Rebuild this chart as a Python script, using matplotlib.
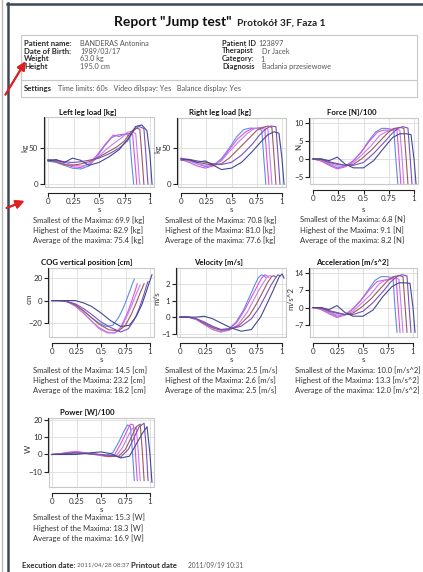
import matplotlib
matplotlib.use("Agg")
import matplotlib.pyplot as plt
from matplotlib.patches import Rectangle
from matplotlib.lines import Line2D

W, H = 423, 572
plt.rcParams['font.family'] = ['Lato', 'DejaVu Sans']

# ---------------- data ----------------
series_colors = ['#5b8de8', '#e050e0', '#c080f0', '#a05858', '#7a50c0', '#404a90']

x_s1 = [0.00, 0.08, 0.16, 0.24, 0.32, 0.40, 0.48, 0.55, 0.62, 0.68, 0.73, 0.77, 0.80, 0.82, 0.84]
x_s2 = [0.00, 0.08, 0.16, 0.24, 0.32, 0.40, 0.48, 0.56, 0.64, 0.70, 0.76, 0.80, 0.83, 0.85, 0.87]
x_s3 = [0.00, 0.08, 0.16, 0.24, 0.32, 0.40, 0.48, 0.57, 0.66, 0.72, 0.78, 0.82, 0.86, 0.88, 0.90]
x_s4 = [0.00, 0.08, 0.16, 0.24, 0.32, 0.40, 0.48, 0.58, 0.68, 0.75, 0.81, 0.86, 0.90, 0.92, 0.94]
x_s5 = [0.00, 0.08, 0.16, 0.24, 0.32, 0.40, 0.50, 0.60, 0.70, 0.78, 0.84, 0.89, 0.94, 0.96, 0.98]
x_s6 = [0.00, 0.08, 0.16, 0.24, 0.32, 0.40, 0.50, 0.60, 0.70, 0.79, 0.86, 0.92, 0.97, 1.00, 1.02]
series_x = [x_s1, x_s2, x_s3, x_s4, x_s5, x_s6]

left_leg = [
    [32, 30, 26, 22, 21, 25, 38, 52, 64, 68, 69, 69, 66, 30, 0],
    [33, 32, 28, 24, 23, 28, 40, 55, 68, 66, 70, 70, 68, 35, 0],
    [34, 33, 30, 27, 25, 27, 36, 48, 58, 64, 72, 73, 70, 35, 0],
    [33, 31, 27, 26, 28, 31, 36, 44, 52, 60, 72, 78, 76, 40, 0],
    [34, 33, 31, 30, 31, 33, 36, 42, 50, 60, 74, 80, 77, 40, 0],
    [32, 34, 30, 36, 33, 26, 30, 38, 48, 64, 80, 82, 74, 40, 0],
]
right_leg = [
    [35, 32, 28, 24, 26, 35, 50, 65, 75, 77, 77, 76, 74, 35, 0],
    [34, 30, 25, 22, 25, 33, 48, 62, 72, 76, 77, 77, 75, 35, 0],
    [36, 33, 28, 26, 27, 32, 45, 58, 70, 76, 78, 78, 76, 38, 0],
    [35, 33, 30, 28, 26, 28, 36, 50, 64, 74, 78, 80, 78, 40, 0],
    [35, 34, 32, 30, 28, 27, 30, 40, 54, 68, 76, 80, 79, 40, 0],
    [33, 34, 30, 32, 26, 20, 22, 30, 44, 58, 68, 72, 70, 35, 0],
]
force = [
    [0, -0.5, -1.5, -2.5, -2.0, -0.5, 2.0, 5.0, 7.5, 8.5, 8.5, 8.3, 8.0, 0, -7],
    [0, -0.6, -1.8, -2.8, -2.2, -0.5, 2.0, 5.0, 7.5, 8.0, 8.0, 8.5, 8.5, 1, -7],
    [0, -0.3, -1.2, -2.0, -2.0, -1.0, 1.0, 3.5, 6.5, 7.5, 8.0, 8.3, 8.0, 1, -7],
    [0, -0.2, -1.0, -1.5, -1.8, -1.5, 0.0, 2.5, 5.5, 7.5, 8.5, 8.8, 8.5, 1, -7],
    [0, 0.0, -0.8, -1.3, -1.8, -1.8, -1.0, 1.5, 4.5, 7.0, 8.5, 9.0, 8.6, 1, -7],
    [0, 0.0, -0.5, 0.5, -1.5, -2.5, -2.5, -0.5, 3.0, 6.0, 7.0, 7.0, 6.8, 0, -7],
]
cog = [
    [0, 0, -1, -4, -9, -15, -20, -23, -22, -15, -6, 3, 10, 15, 19],
    [0, 0, -1, -5, -11, -18, -24, -28, -29, -24, -13, -4, 4, 9, 15],
    [0, 0, -1, -5, -11, -18, -25, -29, -28, -22, -11, -3, 6, 10, 14],
    [0, 0, -1, -4, -9, -15, -21, -26, -27, -22, -12, -2, 7, 11, 15],
    [0, 0, -1, -3, -7, -12, -19, -24, -28, -25, -17, -7, 6, 12, 17],
    [0, 0, 0, 0, -2, -5, -11, -18, -23, -22, -14, -3, 10, 18, 23],
]
velocity = [
    [0, 0, -0.10, -0.35, -0.60, -0.75, -0.70, -0.30, 0.40, 1.20, 1.90, 2.40, 2.55, 2.50, 2.40],
    [0, 0, -0.15, -0.45, -0.75, -0.90, -0.75, -0.30, 0.50, 1.20, 1.90, 2.35, 2.55, 2.50, 2.40],
    [0, 0, -0.15, -0.45, -0.75, -0.90, -0.80, -0.45, 0.30, 1.00, 1.70, 2.10, 2.45, 2.50, 2.45],
    [0, 0, -0.10, -0.40, -0.65, -0.80, -0.75, -0.50, 0.10, 0.80, 1.50, 2.10, 2.45, 2.50, 2.40],
    [0, 0, -0.10, -0.30, -0.55, -0.75, -0.70, -0.55, -0.10, 0.60, 1.30, 1.90, 2.40, 2.55, 2.50],
    [0, 0, 0.00, 0.05, -0.10, -0.35, -0.65, -0.85, -0.75, 0.00, 0.90, 1.70, 2.40, 2.60, 2.35],
]
acceleration = [
    [0, -0.5, -2.0, -3.5, -3.0, -0.5, 3.0, 7.0, 11.0, 12.5, 12.5, 12.3, 12.0, 0, -10],
    [0, -0.8, -2.5, -4.0, -3.0, -0.5, 3.0, 7.0, 10.5, 11.0, 11.5, 12.5, 12.5, 1, -10],
    [0, -0.5, -1.8, -3.0, -3.0, -1.5, 1.5, 5.0, 9.5, 11.0, 11.5, 12.0, 11.5, 1, -10],
    [0, -0.3, -1.5, -2.3, -2.8, -2.2, 0.0, 3.5, 8.0, 11.0, 12.5, 13.0, 12.5, 1, -10],
    [0, 0.0, -1.2, -2.0, -2.8, -2.8, -1.5, 2.0, 6.5, 10.5, 12.5, 13.3, 12.8, 1, -10],
    [0, 0.0, -0.8, 0.8, -2.0, -3.5, -3.5, -1.0, 4.5, 8.5, 10.0, 10.0, 9.8, 0, -10],
]
power = [
    [0, 0.3, 0.8, 1.3, 1.0, 0.5, 0.0, -0.5, 1.0, 7.0, 13.0, 17.0, 16.0, 2, -15],
    [0, 0.5, 1.2, 1.8, 1.2, 0.3, -0.5, -1.0, 0.0, 6.0, 13.0, 17.5, 17.0, 2, -15],
    [0, 0.4, 1.0, 1.5, 1.0, 0.3, -0.3, -1.2, -0.5, 4.0, 11.0, 15.0, 15.5, 2, -15],
    [0, 0.3, 0.8, 1.0, 0.8, 0.3, 0.0, -1.2, -1.0, 3.0, 10.0, 16.0, 17.5, 3, -15],
    [0, 0.2, 0.6, 0.8, 0.6, 0.3, 0.0, -0.5, -1.5, 3.0, 10.0, 16.0, 18.0, 5, -15],
    [0, 0.0, 0.0, 0.0, 0.5, 1.0, 1.5, 0.5, -2.0, -1.0, 6.0, 12.0, 16.0, 0, -16],
]

x_ticks = [0, 0.25, 0.5, 0.75, 1]
x_tick_labels = ['0', '0.25', '0.5', '0.75', '1']

titles = ['Left leg load [kg]', 'Right leg load [kg]', 'Force [N]/100',
          'COG vertical position [cm]', 'Velocity [m/s]', 'Acceleration [m/s^2]',
          'Power [W]/100']
units = ['kg', 'kg', 'N', 'cm', 'm/s', 'm/s^2', 'W']
y_ticks = [[0, 50], [0, 50], [-5, 0, 5, 10], [-20, 0, 20], [-1, 0, 1, 2],
           [-7, 0, 7, 14], [-10, 0, 10, 20]]
y_limits = [(-4, 93), (-4, 91), (-7, 11.4), (-32.4, 29), (-1.2, 2.96),
            (-11.9, 16), (-18.7, 21)]
stats = [
    ['Smallest of the Maxima: 69.9 [kg]', 'Highest of the Maxima: 82.9 [kg]', 'Average of the maxima: 75.4 [kg]'],
    ['Smallest of the Maxima: 70.8 [kg]', 'Highest of the Maxima: 81.0 [kg]', 'Average of the maxima: 77.6 [kg]'],
    ['Smallest of the Maxima: 6.8 [N]', 'Highest of the Maxima: 9.1 [N]', 'Average of the maxima: 8.2 [N]'],
    ['Smallest of the Maxima: 14.5 [cm]', 'Highest of the Maxima: 23.2 [cm]', 'Average of the maxima: 18.2 [cm]'],
    ['Smallest of the Maxima: 2.5 [m/s]', 'Highest of the Maxima: 2.6 [m/s]', 'Average of the maxima: 2.5 [m/s]'],
    ['Smallest of the Maxima: 10.0 [m/s^2]', 'Highest of the Maxima: 13.3 [m/s^2]', 'Average of the maxima: 12.0 [m/s^2]'],
    ['Smallest of the Maxima: 15.3 [W]', 'Highest of the Maxima: 18.3 [W]', 'Average of the maxima: 16.9 [W]'],
]
chart_data = [left_leg, right_leg, force, cog, velocity, acceleration, power]

# ---------------- layout (pixel positions) ----------------
chart_px = [
    (48, 150, 117, 187), (181, 282, 118, 187), (313, 414, 118, 184),
    (52, 150, 268, 337), (180, 282, 268, 337), (313, 413, 268, 337),
    (52, 150, 418, 487),
]
title_pos = [(88, 112), (220, 112), (352, 112), (87, 262), (218, 262), (352, 262), (87, 412)]
ylabel_x = [25, 158, 299, 29, 157, 291, 28]
stats_x = [33, 165, 300, 33, 165, 295, 33]
row_of = [0, 0, 0, 1, 1, 1, 2]
s_label_y = [210, 360, 509]
stats_y = [(220, 230, 240), (371, 380, 390), (518, 528, 538)]
XMIN, XMAX = -0.03, 1.04

fig = plt.figure(figsize=(W / 100, H / 100), dpi=100)
fig.patch.set_facecolor('white')


def fx(x):
    return x / W


def fy(y):
    return 1 - y / H


txt_col = '#2a2a2a'
val_col = '#555555'

# page frame
fig.add_artist(Line2D([fx(2), fx(2)], [0, 1], color='#b8b8b8', lw=1.0))
fig.add_artist(Line2D([fx(7.5), fx(7.5)], [0, fy(3)], color='#3c4858', lw=1.8))
fig.add_artist(Line2D([fx(7), 1], [fy(4), fy(4)], color='#3c4858', lw=1.8))

# header
fig.text(fx(232), fy(22), 'Report "Jump test"', fontsize=10, fontweight='bold',
         ha='right', va='center', color='#111111')
fig.text(fx(237), fy(23), 'Protokół 3F, Faza 1', fontsize=7.3, fontweight='bold',
         ha='left', va='center', color='#222222')

fig.add_artist(Rectangle((fx(21), fy(97)), fx(417) - fx(21), fy(35) - fy(97),
                         fill=False, edgecolor='#c8c8c8', lw=0.8))
fig.add_artist(Line2D([fx(21), fx(417)], [fy(80), fy(80)], color='#c8c8c8', lw=0.8))

info_left = [('Patient name:', 'BANDERAS Antonina'), ('Date of Birth:', '1989/03/17'),
             ('Weight', '63.0 kg'), ('Height', '195.0 cm')]
info_right = [('Patient ID', '123897', 258), ('Therapist', 'Dr Jacek', 262),
              ('Category:', '1', 260), ('Diagnosis', 'Badania przesiewowe', 262)]
info_y = [43, 51, 59, 67]
for (lab, val), y in zip(info_left, info_y):
    fig.text(fx(24), fy(y), lab, fontsize=5.6, fontweight='bold', ha='left', va='center', color=txt_col)
    fig.text(fx(80), fy(y), val, fontsize=5.2, ha='left', va='center', color=val_col)
for (lab, val, vx), y in zip(info_right, info_y):
    fig.text(fx(222), fy(y), lab, fontsize=5.4, fontweight='bold', ha='left', va='center', color=txt_col)
    fig.text(fx(vx), fy(y), val, fontsize=5.2, ha='left', va='center', color=val_col)
fig.text(fx(24), fy(89), 'Settings', fontsize=5.6, fontweight='bold', ha='left', va='center', color=txt_col)
fig.text(fx(58), fy(89), 'Time limits: 60s   Video dilspay: Yes   Balance display: Yes',
         fontsize=5.2, ha='left', va='center', color=val_col)

# charts
for i in range(7):
    t0, t1, ytop, ybot = chart_px[i]
    scale = t1 - t0
    left = t0 + XMIN * scale
    right = t0 + XMAX * scale
    ax = fig.add_axes([fx(left), fy(ybot), fx(right) - fx(left), fy(ytop) - fy(ybot)])
    ax.set_facecolor('white')
    for k in range(6):
        ax.plot(series_x[k], chart_data[i][k], color=series_colors[k], lw=0.8)
    ax.set_xlim(XMIN, XMAX)
    ax.set_ylim(*y_limits[i])
    ax.set_xticks(x_ticks)
    ax.set_xticklabels(x_tick_labels)
    ax.set_yticks(y_ticks[i])
    ax.grid(True, color='#dcdcdc', lw=0.6)
    ax.set_axisbelow(True)
    for sp in ('top', 'right'):
        ax.spines[sp].set_visible(False)
    ax.spines['left'].set_position(('outward', 1))
    ax.spines['bottom'].set_position(('outward', 4))
    ax.spines['left'].set_bounds(min(y_ticks[i]), y_limits[i][1])
    ax.spines['bottom'].set_bounds(0, 1)
    for sp in ('left', 'bottom'):
        ax.spines[sp].set_color('#222222')
        ax.spines[sp].set_linewidth(0.8)
    ax.add_patch(Rectangle((0, 0), 1, 1, transform=ax.transAxes, fill=False,
                           edgecolor='#c8c8c8', lw=0.8, clip_on=False))
    ax.tick_params(axis='both', labelsize=5.8, length=3, width=0.8, pad=0.8,
                   color='#222222', labelcolor='#333333')
    r = row_of[i]
    fig.text(fx(title_pos[i][0]), fy(title_pos[i][1]), titles[i], fontsize=5.6,
             fontweight='bold', ha='center', va='center', color='#111111')
    fig.text(fx(ylabel_x[i]), fy((ytop + ybot) / 2 - 4), units[i], fontsize=5.8,
             rotation=90, ha='center', va='center', color='#333333')
    fig.text(fx((t0 + t1) / 2), fy(s_label_y[r]), 's', fontsize=5.8,
             ha='center', va='center', color='#333333')
    for line, yy in zip(stats[i], stats_y[r]):
        fig.text(fx(stats_x[i]), fy(yy), line, fontsize=5.5, ha='left', va='center', color='#333333')

# footer
fig.text(fx(22), fy(565), 'Execution date:', fontsize=5.6, fontweight='bold', ha='left', va='center', color=txt_col)
fig.text(fx(77), fy(565), '2011/04/28 08:37', fontsize=4.5, ha='left', va='center', color=val_col)
fig.text(fx(131), fy(565), 'Printout date', fontsize=5.6, fontweight='bold', ha='left', va='center', color=txt_col)
fig.text(fx(188), fy(565), '2011/09/19 10:31', fontsize=4.7, ha='left', va='center', color=val_col)

# red arrows
arrow_kw = dict(arrowstyle='-|>,head_length=0.5,head_width=0.25', color='#e02020', lw=1.4)
fig.add_artist(plt.annotate('', xy=(fx(27), fy(59)), xytext=(fx(4), fy(97)),
                            xycoords='figure fraction', textcoords='figure fraction',
                            arrowprops=arrow_kw))
fig.add_artist(plt.annotate('', xy=(fx(27), fy(200)), xytext=(fx(4), fy(209)),
                            xycoords='figure fraction', textcoords='figure fraction',
                            arrowprops=arrow_kw))

fig.savefig('out.png', dpi=100, facecolor='white')
